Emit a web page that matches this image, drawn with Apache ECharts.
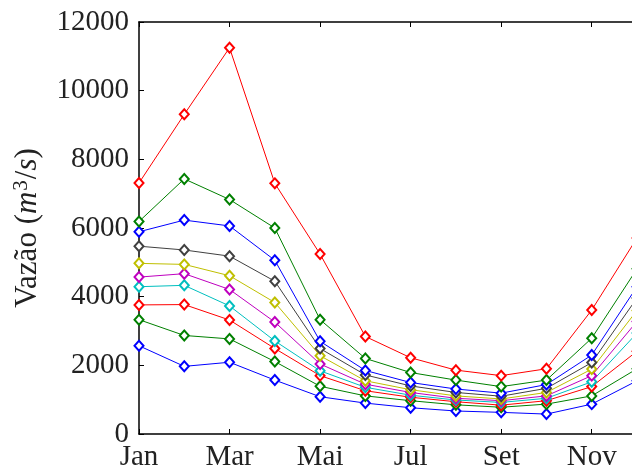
<!DOCTYPE html>
<html><head><meta charset="utf-8">
<script src="https://cdn.jsdelivr.net/npm/echarts@6/dist/echarts.min.js"></script>
<style>html,body{margin:0;padding:0;background:#fff;overflow:hidden}#c{width:645px;height:472px}</style>
</head><body><div id="c"></div>
<script>
const months = ['Jan','Fev','Mar','Abr','Mai','Jun','Jul','Ago','Set','Out','Nov','Dez'];
const yTicks = [0,2000,4000,6000,8000,10000,12000];
const s1 = [2570,1970,2090,1570,1085,900,765,670,630,580,870,1550];
const s2 = [3330,2870,2770,2110,1390,1110,970,850,780,870,1110,1900];
const s3 = [3760,3770,3320,2490,1700,1260,1070,940,840,970,1380,2410];
const s4 = [4290,4330,3730,2710,1840,1360,1130,990,920,1040,1520,2940];
const s5 = [4570,4670,4210,3260,2040,1450,1210,1040,970,1110,1700,3280];
const s6 = [4970,4940,4610,3830,2280,1550,1290,1110,1020,1210,1890,3600];
const s7 = [5470,5360,5180,4450,2490,1720,1400,1210,1100,1330,2080,3960];
const s8 = [5890,6230,6060,5060,2700,1850,1500,1310,1190,1440,2300,4290];
const s9 = [6190,7430,6830,6000,3330,2200,1790,1570,1380,1570,2790,4810];
const s10 = [7310,9310,11250,7300,5240,2840,2220,1860,1700,1900,3610,5710];
const seriesData = [s1,s2,s3,s4,s5,s6,s7,s8,s9,s10];
const colors = ['#0000ff','#008000','#ff0000','#00bfbf','#bf00bf','#bfbf00','#404040','#0000ff','#008000','#ff0000'];

const font = 'Liberation Serif';
const chart = echarts.init(document.getElementById('c'), null, {renderer:'canvas'});
chart.setOption({
  backgroundColor:'#fff',
  animation:false,
  grid:{left:139,top:22,bottom:37,right:8,containLabel:false},
  xAxis:[{
    type:'category',data:months,boundaryGap:false,position:'bottom',
    axisLine:{lineStyle:{color:'#000',width:1.5}},
    axisTick:{inside:true,length:5,interval:1,lineStyle:{color:'#000'}},
    axisLabel:{interval:1,fontFamily:font,fontSize:29,color:'#222',margin:9},
    splitLine:{show:false}
  },{
    type:'category',data:months,boundaryGap:false,position:'top',
    axisLine:{lineStyle:{color:'#000',width:1.5}},
    axisTick:{inside:true,length:5,interval:1,lineStyle:{color:'#000'}},
    axisLabel:{show:false},splitLine:{show:false}
  }],
  yAxis:{
    type:'value',min:0,max:12000,interval:2000,
    axisLine:{show:true,lineStyle:{color:'#000',width:1.5}},
    axisTick:{show:true,inside:true,length:5,lineStyle:{color:'#000'}},
    axisLabel:{fontFamily:font,fontSize:29,color:'#222',margin:10,
      formatter:v=>yTicks.includes(v)?String(v):''},
    splitLine:{show:false},
    name:'{n|Vazão (}{i|m}{sup|3}{n|/}{i|s}{n|)}',
    nameLocation:'middle',nameGap:95,nameRotate:90,
    nameTextStyle:{rich:{
      n:{fontFamily:font,fontSize:31,color:'#222'},
      i:{fontFamily:font,fontSize:31,fontStyle:'italic',color:'#222'},
      sup:{fontFamily:font,fontSize:21,color:'#222',padding:[0,1,12,1]}
    }}
  },
  series:seriesData.map((d,i)=>({
    type:'line',data:d,xAxisIndex:0,
    symbol:'emptyDiamond',symbolSize:[9,10],
    lineStyle:{color:colors[i],width:1},
    itemStyle:{color:colors[i],borderColor:colors[i],borderWidth:1},
    clip:false,z:2+i
  }))
});
</script></body></html>
